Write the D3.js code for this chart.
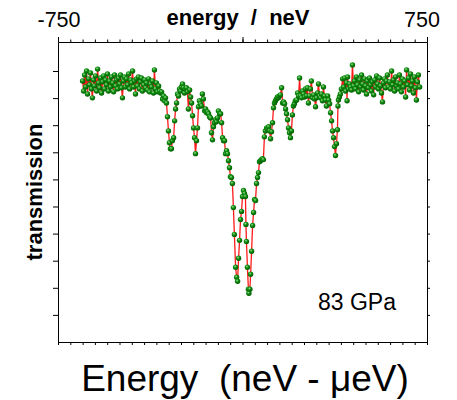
<!DOCTYPE html>
<html><head><meta charset="utf-8">
<script src="https://cdn.jsdelivr.net/npm/d3@7/dist/d3.min.js"></script>
<style>body{margin:0;background:#fff}svg{display:block}text{font-family:"Liberation Sans",Arial,sans-serif}</style>
</head><body>
<svg id="c" width="457" height="400"></svg>
<script>
// energy in neV, transmission (arb. units)
const energy = [
-650,-646,-642,-638,-634,-630,-626,-622,-618,-614,-610,-606,-602,-598,-593,-589,-585,-581,-577,-573,
-569,-565,-561,-557,-553,-549,-545,-541,-537,-533,-528,-524,-520,-516,-512,-508,-504,-500,-496,-492,
-488,-484,-480,-476,-472,-467,-463,-459,-455,-451,-447,-443,-439,-435,-431,-427,-423,-419,-415,-411,
-407,-402,-398,-394,-390,-386,-382,-378,-374,-370,-366,-362,-358,-354,-350,-346,-341,-337,
-333,-329,-325,-321,-317,-313,-309,-305,-301,-297,-293,-289,-285,-280,-276,-272,-268,-264,-260,-256,
-252,-248,-244,-240,-236,-232,-228,-224,-220,-215,-211,-207,-203,-199,-195,-191,-187,-183,-179,-175,
-171,-167,-163,-159,-154,-150,-146,-142,-138,-134,-130,-126,-122,-118,-114,-110,-106,-102,-98,-93,
-89,-85,-81,-77,-73,-69,-65,-61,-57,-53,-49,-45,-41,-37,-33,-28,-24,-20,-16,-12,
-8,-4,0,4,8,12,14,16,20,24,26,30,33,37,41,45,49,53,57,61,
65,69,73,77,81,85,89,93,98,102,106,110,114,118,122,126,130,134,138,142,
146,150,154,159,163,167,171,175,179,183,187,191,195,199,203,207,211,215,220,224,
228,232,236,240,244,248,252,256,260,264,268,272,276,280,285,289,293,297,301,305,
309,313,317,321,325,329,333,337,341,346,350,354,358,362,366,370,374,378,382,386,
388,390,394,398,402,407,411,415,419,423,425,427,431,435,439,443,447,451,
455,459,463,467,472,476,480,484,488,492,496,500,504,508,512,516,520,524,528,533,
537,541,545,549,553,557,561,565,569,573,577,581,585,589,593,598,602,606,610,614,
618,622,626,630,634,638,642,646,650,654,659,663,667,671,675,679,683,687,691,695,
699,703,707,711,715,720
];
const transmission = [
0.963,0.926,0.985,0.941,1.000,0.915,0.971,0.949,0.993,0.934,0.901,0.967,0.945,0.982,0.926,1.007,0.956,0.938,0.974,0.919,
0.960,0.982,0.934,0.967,0.949,0.989,0.926,0.963,0.941,0.978,0.956,0.923,0.985,0.945,0.967,0.934,0.974,0.952,0.985,0.938,
0.901,0.963,0.978,0.941,0.971,0.949,0.989,0.934,0.967,0.956,1.000,0.941,0.963,0.915,0.971,0.945,0.978,0.934,0.960,0.974,
0.926,0.949,0.967,0.938,0.956,0.930,0.971,0.923,0.952,0.941,0.963,0.919,1.004,0.934,0.956,0.923,0.945,0.926,
0.919,0.923,0.897,0.908,0.890,0.901,0.882,0.831,0.779,0.735,0.713,0.713,0.743,0.754,0.816,0.860,0.882,0.915,0.908,0.934,
0.926,0.941,0.952,0.938,0.919,0.934,0.938,0.923,0.860,0.930,0.904,0.882,0.835,0.790,0.754,0.695,0.743,0.790,0.868,0.890,
0.879,0.871,0.915,0.897,0.853,0.860,0.846,0.849,0.842,0.831,0.827,0.772,0.746,0.794,0.809,0.820,0.813,0.827,0.853,0.842,
0.842,0.809,0.754,0.743,0.743,0.695,0.706,0.695,0.669,0.643,0.610,0.607,0.585,0.496,0.397,0.276,0.239,0.224,0.309,0.375,
0.452,0.482,0.537,0.559,0.548,0.537,0.434,0.371,0.276,0.195,0.180,0.195,0.250,0.335,0.430,0.478,0.526,0.522,0.585,0.607,
0.625,0.665,0.669,0.673,0.676,0.673,0.757,0.779,0.790,0.787,0.794,0.779,0.750,0.776,0.809,0.864,0.882,0.890,0.897,0.904,
0.901,0.908,0.912,0.938,0.882,0.886,0.879,0.860,0.842,0.820,0.790,0.772,0.754,0.779,0.838,0.871,0.879,0.890,0.893,0.919,
0.908,0.974,0.908,0.901,0.926,0.915,0.904,0.934,0.908,0.938,0.882,0.908,0.934,0.963,0.901,0.912,0.897,0.868,0.901,0.919,
0.952,0.908,0.901,0.915,0.890,0.941,0.908,0.893,0.871,0.908,0.893,0.879,0.846,0.816,0.779,0.754,0.721,0.688,0.732,0.783,
0.871,0.893,0.904,0.915,0.934,0.971,0.941,0.974,0.926,0.956,0.890,0.978,0.934,0.952,0.941,0.930,1.022,0.945,
0.963,0.934,0.978,0.949,0.923,0.967,0.941,0.985,0.952,0.930,0.971,0.945,0.915,0.963,0.938,0.974,0.949,0.926,0.960,0.912,
0.967,0.941,0.982,0.952,0.934,0.974,0.945,0.919,0.886,0.956,0.971,0.938,0.963,0.985,0.941,0.960,0.934,1.000,0.949,0.967,
0.926,0.978,0.945,0.956,0.934,0.985,0.952,0.923,0.971,0.941,0.963,0.904,1.004,0.949,0.974,0.930,0.989,0.945,0.963,0.919,
0.978,0.938,0.893,0.960,0.985,0.941
];
const yTicks = [0.1,0.2,0.3,0.4,0.5,0.6,0.7,0.8,0.9,1.0];
const xMajorTicks = [-750,0,750];
const xTopLabels = ["-750","750"];
const pressureLabel = "83 GPa";
const topTitle = "energy  /  neV";
const yTitle = "transmission";
const xTitle = "Energy  (neV - \u03bceV)";

const W=457,H=400, L=58, R=427, T=42, B=342;
const svg=d3.select("#c");
svg.append("rect").attr("width",W).attr("height",H).attr("fill","#fff");
const x=d3.scaleLinear().domain([-750,750]).range([L,R]);
const y=d3.scaleLinear().domain([0,1.107]).range([B,T]);
const minor=d3.range(-750,751,50);

const defs=svg.append("defs");
const g=defs.append("radialGradient").attr("id","ball").attr("cx","40%").attr("cy","35%").attr("r","65%");
g.append("stop").attr("offset","0%").attr("stop-color","#9ee09e");
g.append("stop").attr("offset","40%").attr("stop-color","#129012");
g.append("stop").attr("offset","100%").attr("stop-color","#005a00");

// axes
const axStyle=sel=>{sel.selectAll("text").remove();sel.select(".domain").attr("stroke","#000");sel.selectAll("line").attr("stroke","#000");};
svg.append("g").attr("transform",`translate(0,${T})`).call(d3.axisTop(x).tickValues(minor).tickSize(2.5).tickSizeOuter(0)).call(axStyle);
svg.append("g").attr("transform",`translate(0,${T})`).call(d3.axisTop(x).tickValues(xMajorTicks).tickSize(5).tickSizeOuter(0)).call(axStyle);
svg.append("g").attr("transform",`translate(0,${B})`).call(d3.axisBottom(x).tickValues(minor).tickSize(3).tickSizeOuter(0)).call(axStyle);
svg.append("g").attr("transform",`translate(${L},0)`).call(d3.axisLeft(y).tickValues(yTicks).tickSize(5).tickSizeOuter(0)).call(axStyle);
svg.append("g").attr("transform",`translate(${R},0)`).call(d3.axisRight(y).tickValues(yTicks).tickSize(3).tickSizeOuter(0)).call(axStyle);

const data=energy.map((e,i)=>({e,t:transmission[i]}));
svg.append("path").datum(data).attr("fill","none").attr("stroke","#ff0000").attr("stroke-width",1.3).attr("stroke-opacity",0.9)
  .attr("d",d3.line().x(d=>x(d.e)).y(d=>y(d.t)));
svg.append("g").selectAll("circle").data(data).join("circle")
  .attr("cx",d=>x(d.e)).attr("cy",d=>y(d.t)).attr("r",2.7).attr("fill","url(#ball)");

// texts
svg.append("text").attr("x",x(-750)+1).attr("y",27).attr("text-anchor","middle").attr("font-size",21.5).text(xTopLabels[0]);
svg.append("text").attr("x",x(750)-5).attr("y",27).attr("text-anchor","middle").attr("font-size",21.5).text(xTopLabels[1]);
svg.append("text").attr("x",238).attr("y",25).attr("text-anchor","middle").attr("font-size",22).attr("font-weight","bold").style("white-space","pre").text(topTitle);
svg.append("text").attr("transform","translate(42,192) rotate(-90)").attr("text-anchor","middle").attr("font-size",22).attr("font-weight","bold").text(yTitle);
svg.append("text").attr("x",357).attr("y",310).attr("text-anchor","middle").attr("font-size",23).text(pressureLabel);
svg.append("text").attr("x",245).attr("y",391).attr("text-anchor","middle").attr("font-size",37).style("white-space","pre").text(xTitle);
</script>
</body></html>
